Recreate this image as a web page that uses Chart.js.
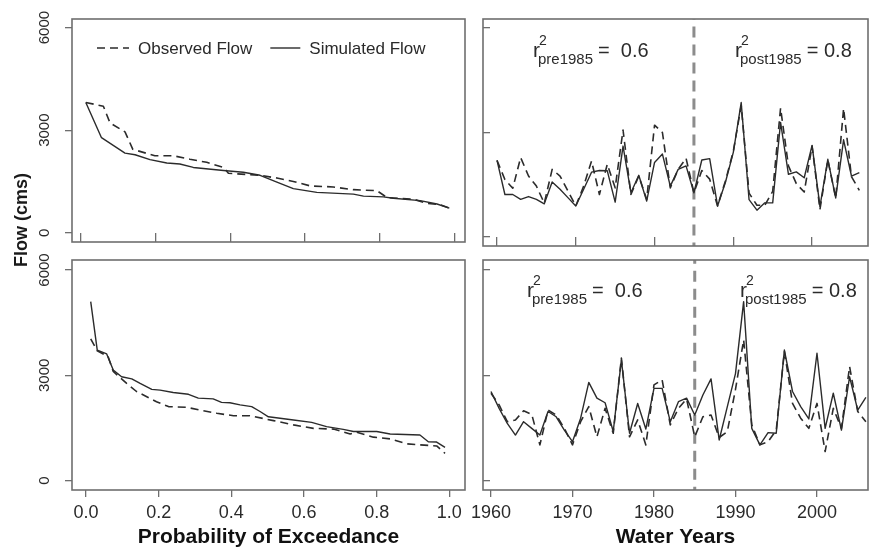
<!DOCTYPE html>
<html>
<head>
<meta charset="utf-8">
<script src="https://cdn.jsdelivr.net/npm/chart.js@4/dist/chart.umd.min.js"></script>
<style>
body { margin: 0; background: #fff; }
#wrap { position: relative; width: 881px; height: 550px; overflow: hidden; font-family: "Liberation Sans", Arial, sans-serif; }
#wrap canvas { position: absolute; }
#ylab { position: absolute; left: -79px; top: 208px; width: 200px; height: 24px; line-height: 24px; text-align: center;
        transform: rotate(-90deg); font-weight: bold; font-size: 18px; color: #1a1a1a; }
</style>
</head>
<body>
<div id="wrap">
  <canvas id="tl" width="485" height="254" style="left:0;top:0"></canvas>
  <canvas id="tr" width="418" height="254" style="left:463px;top:0"></canvas>
  <canvas id="bl" width="485" height="304" style="left:0;top:246px"></canvas>
  <canvas id="br" width="418" height="304" style="left:463px;top:246px"></canvas>
  <div id="ylab">Flow (cms)</div>
</div>
<script>
// water years
var years = [1960,1961,1962,1963,1964,1965,1966,1967,1968,1969,
             1970,1971,1972,1973,1974,1975,1976,1977,1978,1979,
             1980,1981,1982,1983,1984,1985,1986,1987,1988,1989,
             1990,1991,1992,1993,1994,1995,1996,1997,1998,1999,
             2000,2001,2002,2003,2004,2005,2006];

// top row (cms)
var topObsFlow = [2190,1640,1390,2270,1740,1450,960,1930,1740,1310,
                  880,1450,2170,1210,2080,1400,3060,1210,1740,1070,
                  3200,2990,1400,1930,2250,1260,1900,1650,880,1600,
                  2450,3760,1250,900,900,1300,3690,2030,1520,1280,
                  2600,780,2200,1110,3680,1720,1330];
var topSimFlow = [2190,1210,1210,1070,1150,1070,940,1570,1360,1120,
                  880,1360,1850,1900,1890,990,2600,1260,1760,1020,
                  2130,2370,1450,1930,2030,1260,2200,2240,880,1560,
                  2420,3850,1060,760,970,970,3280,1790,1860,1690,
                  2620,870,2220,1110,2780,1740,1840];

// bottom row (cms)
var botObsFlow = [2490,2160,1680,1730,1990,1890,1020,2010,1870,1490,
                  1020,1680,2110,1250,2060,1350,3490,1250,1730,1020,
                  2730,2870,1590,2060,2330,1250,1820,1870,1230,1400,
                  2600,4010,1590,1020,1110,1440,3680,2200,1780,1490,
                  2200,830,2060,1490,3250,1970,1680];
var botSimFlow = [2540,2060,1630,1300,1680,1490,1300,1970,1820,1440,
                  1110,1780,2800,2350,2220,1400,3440,1350,2200,1470,
                  2630,2630,1680,2250,2350,1870,2440,2900,1160,2110,
                  3050,5100,1490,1020,1370,1350,3720,2540,2110,1760,
                  3630,1490,2490,1440,2960,2010,2370];

// flow duration curves
var topFdcObsProb = [0.013,0.06,0.078,0.118,0.139,0.198,0.248,0.292,0.337,0.382,0.395,0.48,
                     0.525,0.569,0.614,0.676,0.73,0.793,0.82,0.891,0.927,0.962,0.987];
var topFdcObsFlow = [3810,3700,3210,2950,2440,2250,2250,2150,2060,1910,1740,1680,
                     1600,1500,1370,1340,1260,1230,1030,980,860,820,720];
var topFdcSimProb = [0.013,0.055,0.118,0.145,0.185,0.23,0.265,0.301,0.382,0.435,0.48,
                     0.525,0.569,0.632,0.73,0.757,0.81,0.837,0.909,0.954,0.987];
var topFdcSimFlow = [3810,2780,2330,2280,2140,2040,2010,1910,1820,1770,1680,
                     1480,1290,1180,1130,1070,1050,1010,940,840,720];

var botFdcObsProb = [0.013,0.031,0.061,0.075,0.112,0.139,0.194,0.227,0.277,0.314,0.36,0.406,
                     0.451,0.516,0.571,0.626,0.681,0.727,0.745,0.791,0.837,0.883,0.919,0.965,0.988];
var botFdcObsFlow = [4040,3700,3530,3110,2770,2540,2250,2110,2090,2010,1920,1850,
                     1850,1710,1590,1490,1470,1330,1380,1240,1190,1050,1020,990,780];
var botFdcSimProb = [0.013,0.031,0.057,0.075,0.098,0.126,0.149,0.181,0.204,0.24,0.282,0.309,
                     0.35,0.373,0.396,0.424,0.456,0.479,0.502,0.534,0.571,0.621,0.662,0.708,
                     0.736,0.8,0.837,0.919,0.942,0.965,0.988];
var botFdcSimFlow = [5100,3720,3610,3150,2960,2900,2770,2600,2580,2510,2460,2350,
                     2330,2230,2220,2160,2110,1970,1820,1780,1730,1660,1540,1460,
                     1400,1400,1330,1300,1110,1100,950];

var probTicks = [0, 0.2, 0.4, 0.6, 0.8, 1.0];
var yearTicks = [1960, 1970, 1980, 1990, 2000];
var flowTicks = [0, 3000, 6000];
var splitYear = 1985;

var FONT = '"Liberation Sans", Arial, Helvetica, sans-serif';
var INK = '#2b2b2b';
var FRAME = '#6e6e6e';
Chart.defaults.font.family = FONT;

function pts(xs, ys) {
    return xs.map(function(x, i) { return {x: x, y: ys[i]}; });
}

function lineSet(label, xs, ys, dashed) {
    return {
        label: label,
        data: pts(xs, ys),
        borderColor: INK,
        backgroundColor: INK,
        borderWidth: dashed ? 1.6 : 1.4,
        borderDash: dashed ? [8, 5] : [],
        borderJoinStyle: 'round',
        pointRadius: 0,
        tension: 0
    };
}

function splitSet() {
    return {
        label: 'split',
        data: [{x: splitYear, y: -1000}, {x: splitYear, y: 7000}],
        borderColor: '#8c8c8c',
        borderWidth: 3,
        borderDash: [11, 7],
        pointRadius: 0,
        clip: 0
    };
}

var frameBox = {
    id: 'frameBox',
    afterDraw: function(chart) {
        var a = chart.chartArea, ctx = chart.ctx;
        ctx.save();
        ctx.strokeStyle = FRAME;
        ctx.lineWidth = 1.6;
        ctx.strokeRect(a.left, a.top, a.right - a.left, a.bottom - a.top);
        ctx.restore();
    }
};

// legend inside the plot, one row, line samples like R's legend()
var lineLegend = {
    id: 'lineLegend',
    afterDraw: function(chart, args, opts) {
        if (!opts.show) return;
        var a = chart.chartArea, ctx = chart.ctx;
        var x = a.left + opts.dx, y = a.top + opts.dy;
        ctx.save();
        ctx.font = '17px ' + FONT;
        ctx.textBaseline = 'middle';
        chart.data.datasets.forEach(function(ds, i) {
            ctx.strokeStyle = ds.borderColor;
            ctx.lineWidth = ds.borderWidth;
            ctx.setLineDash(ds.borderDash);
            ctx.beginPath();
            ctx.moveTo(x, y);
            ctx.lineTo(x + opts.sample[i], y);
            ctx.stroke();
            ctx.setLineDash([]);
            x += opts.sample[i] + 9;
            ctx.fillStyle = '#2a2a2a';
            ctx.fillText(ds.label, x, y + 1);
            x += ctx.measureText(ds.label).width + 18;
        });
        ctx.restore();
    }
};

// r^2 with super- and subscript
var r2Label = {
    id: 'r2Label',
    afterDraw: function(chart, args, opts) {
        if (!opts.items) return;
        var a = chart.chartArea, ctx = chart.ctx;
        ctx.save();
        ctx.fillStyle = INK;
        ctx.textBaseline = 'alphabetic';
        opts.items.forEach(function(it) {
            var x = a.left + it.dx, y = a.top + it.dy;
            ctx.font = '21px ' + FONT;
            ctx.fillText('r', x, y);
            var rw = ctx.measureText('r').width;
            ctx.font = '14px ' + FONT;
            ctx.fillText('2', x + rw - 1, y - 12);
            ctx.font = '15px ' + FONT;
            ctx.fillText(it.sub, x + rw - 2, y + 7);
            var sw = ctx.measureText(it.sub).width;
            ctx.font = '20px ' + FONT;
            ctx.fillText(it.text, x + rw - 2 + sw + 5, y);
        });
        ctx.restore();
    }
};

function panel(id, o) {
    return new Chart(document.getElementById(id), {
        type: 'line',
        data: { datasets: o.datasets },
        plugins: [frameBox, r2Label, lineLegend],
        options: {
            responsive: false,
            animation: false,
            devicePixelRatio: 1,
            layout: { padding: o.pad },
            plugins: {
                legend: { display: false },
                tooltip: { enabled: false },
                r2Label: { items: o.r2 || null },
                lineLegend: o.legend || { show: false }
            },
            scales: {
                x: {
                    type: 'linear',
                    min: o.xmin,
                    max: o.xmax,
                    afterBuildTicks: function(ax) { ax.ticks = o.xticks.map(function(v) { return {value: v}; }); },
                    afterFit: function(ax) { ax.height = o.xh; },
                    border: { display: false },
                    grid: { drawOnChartArea: false, drawTicks: true, tickLength: o.xtl, color: FRAME, lineWidth: 1.3 },
                    ticks: {
                        display: !!o.xlabels,
                        autoSkip: false,
                        maxRotation: 0,
                        padding: 5,
                        color: '#2a2a2a',
                        font: { size: 18 },
                        callback: o.xfmt
                    },
                    title: o.xtitle ? {
                        display: true,
                        text: o.xtitle,
                        color: '#111',
                        font: { size: 21, weight: 'bold' },
                        padding: { top: 0, bottom: 0 }
                    } : { display: false }
                },
                y: {
                    type: 'linear',
                    min: o.ymin,
                    max: o.ymax,
                    afterBuildTicks: function(ax) { ax.ticks = flowTicks.map(function(v) { return {value: v}; }); },
                    afterFit: function(ax) { ax.width = o.yw; },
                    border: { display: false },
                    grid: { drawOnChartArea: false, drawTicks: true, tickLength: o.ytl, color: FRAME, lineWidth: 1.3 },
                    ticks: {
                        display: !!o.ylabels,
                        autoSkip: false,
                        minRotation: 90,
                        maxRotation: 90,
                        crossAlign: 'center',
                        padding: 3,
                        color: '#2a2a2a',
                        font: { size: 15 },
                        callback: function(v) { return String(v); }
                    }
                }
            }
        }
    });
}

function probFmt(v) { return v.toFixed(1); }
function yearFmt(v) { return String(v); }

panel('tl', {
    datasets: [
        lineSet('Observed Flow', topFdcObsProb, topFdcObsFlow, true),
        lineSet('Simulated Flow', topFdcSimProb, topFdcSimFlow, false)
    ],
    pad: { left: 0, top: 19, right: 20, bottom: 0 },
    xmin: -0.024, xmax: 1.029, xticks: probTicks, xfmt: probFmt, xh: 8, xtl: -9,
    ymin: -270, ymax: 6250, yw: 72, ytl: 7, ylabels: true,
    legend: { show: true, dx: 25, dy: 29, sample: [32, 30] }
});

panel('tr', {
    datasets: [
        lineSet('Observed Flow', years, topObsFlow, true),
        lineSet('Simulated Flow', years, topSimFlow, false),
        splitSet()
    ],
    pad: { left: 0, top: 19, right: 13, bottom: 0 },
    xmin: 1958.22, xmax: 2007.1, xticks: yearTicks, xfmt: yearFmt, xh: 8, xtl: -9,
    ymin: -270, ymax: 6250, yw: 20, ytl: -7,
    r2: [
        { dx: 50, dy: 38, sub: 'pre1985', text: '=  0.6' },
        { dx: 252, dy: 38, sub: 'post1985', text: '= 0.8' }
    ]
});

panel('bl', {
    datasets: [
        lineSet('Observed Flow', botFdcObsProb, botFdcObsFlow, true),
        lineSet('Simulated Flow', botFdcSimProb, botFdcSimFlow, false)
    ],
    pad: { left: 0, top: 14, right: 20, bottom: 0 },
    xmin: -0.0385, xmax: 1.043, xticks: probTicks, xfmt: probFmt, xh: 60, xtl: 7, xlabels: true,
    xtitle: 'Probability of Exceedance',
    ymin: -265, ymax: 6285, yw: 72, ytl: 7, ylabels: true
});

panel('br', {
    datasets: [
        lineSet('Observed Flow', years, botObsFlow, true),
        lineSet('Simulated Flow', years, botSimFlow, false),
        splitSet()
    ],
    pad: { left: 0, top: 14, right: 13, bottom: 0 },
    xmin: 1959.02, xmax: 2006.26, xticks: yearTicks, xfmt: yearFmt, xh: 60, xtl: 7, xlabels: true,
    xtitle: 'Water Years',
    ymin: -265, ymax: 6285, yw: 20, ytl: -7,
    r2: [
        { dx: 44, dy: 37, sub: 'pre1985', text: '=  0.6' },
        { dx: 257, dy: 37, sub: 'post1985', text: '= 0.8' }
    ]
});
</script>
</body>
</html>
